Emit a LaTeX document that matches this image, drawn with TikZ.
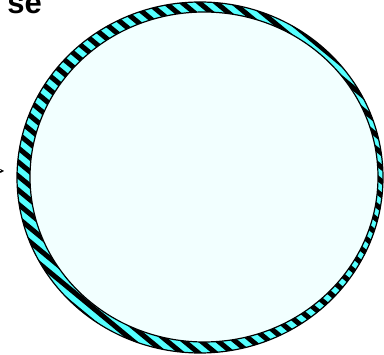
\documentclass[tikz,border=0pt]{standalone}
\usepackage{fontspec}
\setmainfont{Liberation Sans}
\usetikzlibrary{arrows.meta}

\definecolor{ringcyan}{HTML}{55FFFF}
\definecolor{palecyan}{HTML}{F2FFFF}

\begin{document}
\begin{tikzpicture}[x=1pt,y=-1pt]
        \useasboundingbox (0,0) rectangle (384,355);
        % hatched ring
        \fill[ringcyan,even odd rule] (200,177.5) ellipse [x radius=183, y radius=175.5]
          (204,177) ellipse [x radius=174, y radius=165];
        \begin{scope}
          \clip (200,177.5) ellipse [x radius=183, y radius=175.5];
          \foreach \s in {-450,-433,...,400}
            \draw[line width=5pt] (\s,0) -- ++(430,355);
        \end{scope}
        \fill[palecyan] (204,177) ellipse [x radius=174, y radius=165];
        \draw[line width=1.2pt] (200,177.5) ellipse [x radius=183, y radius=175.5];
        \draw[line width=1.2pt] (204,177) ellipse [x radius=174, y radius=165];
        % cropped title and pointer
        \node[anchor=base east,font=\bfseries\fontsize{31}{31}\selectfont,inner sep=0pt] (title) at (42,14) {se};
        \coordinate (tail) at (-30,171);
        \coordinate (tip) at (4,171);
        \draw[-{Stealth[length=4pt,width=4pt]},line width=0.4pt,shorten <=30pt] (tail) -- (tip);
      \end{tikzpicture}
\end{document}
